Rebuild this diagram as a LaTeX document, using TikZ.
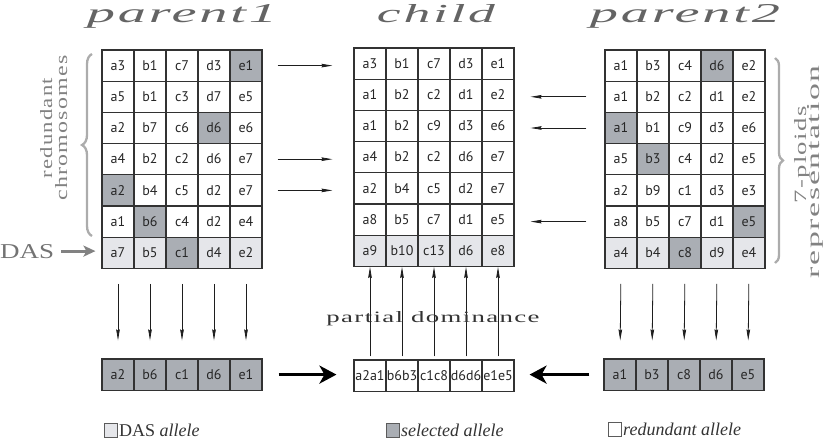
\documentclass[tikz,border=0pt]{standalone}
\usepackage{fontspec}
\setmainfont{Liberation Serif}
\newfontfamily\cellfont{PT Sans}
\newfontfamily\spaced[LetterSpace=5]{Liberation Serif}
\usetikzlibrary{arrows.meta,decorations.pathreplacing}
\definecolor{cs}{RGB}{170,174,180}
\definecolor{cd}{RGB}{229,230,234}
\definecolor{cw}{RGB}{255,255,255}
\definecolor{gridc}{RGB}{50,50,50}
\definecolor{titlec}{RGB}{100,100,100}
\definecolor{sidec}{RGB}{130,130,130}
\definecolor{bracec}{RGB}{172,172,172}
\definecolor{dasc}{RGB}{115,115,115}
\definecolor{arrc}{RGB}{30,30,30}
\newcommand\drawgrid[4]{%
  \foreach \row [count=\r] in {#4} {
    \foreach \t/\f [count=\j] in \row {
      \node[cell,fill=\f] (#1-\r-\j) at ({#2+32*(\j-0.5)},{#3+31.2*(\r-0.5)}) {\t};
    }
  }}
\begin{document}
\begin{tikzpicture}[x=1pt,y=-1pt,
  cell/.style={draw=gridc, line width=1.1pt, minimum width=32pt, minimum height=31.2pt,
    inner sep=0pt, text height=9.5pt, text depth=0pt,
    font=\cellfont\fontsize{14}{15}\selectfont, text=black!85},
  titletext/.style={inner sep=0pt, text=titlec, anchor=base},
  sidetext/.style={inner sep=0pt, text=sidec, rotate=90, anchor=base},
  smarr/.style={draw=arrc, line width=0.8pt, -{Stealth[length=11pt,width=3.6pt,inset=1pt]}},
  bigarr/.style={draw=black, line width=3.2pt, -{Stealth[length=17pt,width=18pt,inset=5pt]}},
  dasarr/.style={draw=sidec, line width=3pt, -{Stealth[length=12pt,width=11pt,inset=3pt]}},
  bracestyle/.style={draw=bracec, line width=2.3pt, decorate},
  legbox/.style={draw=gridc!80, line width=0.8pt, minimum width=13pt, minimum height=14pt, inner sep=0pt},
  legtext/.style={inner sep=0pt, anchor=base west, text=black!80, font=\fontsize{18}{19}\selectfont}
]
\useasboundingbox (0,0) rectangle (828,441);

% titles
\node[titletext] (tp1) at (182,23) {\resizebox{190pt}{18pt}{\spaced\itshape parent1}};
\node[titletext] (tc) at (436,23) {\resizebox{118pt}{18pt}{\spaced\itshape child}};
\node[titletext] (tp2) at (685,23) {\resizebox{190pt}{18pt}{\spaced\itshape parent2}};

% grids
\drawgrid{p1}{102}{50}{%
  {a3/cw,b1/cw,c7/cw,d3/cw,e1/cs},
  {a5/cw,b1/cw,c3/cw,d7/cw,e5/cw},
  {a2/cw,b7/cw,c6/cw,d6/cs,e6/cw},
  {a4/cw,b2/cw,c2/cw,d6/cw,e7/cw},
  {a2/cs,b4/cw,c5/cw,d2/cw,e7/cw},
  {a1/cw,b6/cs,c4/cw,d2/cw,e4/cw},
  {a7/cd,b5/cd,c1/cs,d4/cd,e2/cd}}
\drawgrid{c}{354}{48}{%
  {a3/cw,b1/cw,c7/cw,d3/cw,e1/cw},
  {a1/cw,b2/cw,c2/cw,d1/cw,e2/cw},
  {a1/cw,b2/cw,c9/cw,d3/cw,e6/cw},
  {a4/cw,b2/cw,c2/cw,d6/cw,e7/cw},
  {a2/cw,b4/cw,c5/cw,d2/cw,e7/cw},
  {a8/cw,b5/cw,c7/cw,d1/cw,e5/cw},
  {a9/cd,b10/cd,c13/cd,d6/cd,e8/cd}}
\drawgrid{p2}{605}{50}{%
  {a1/cw,b3/cw,c4/cw,d6/cs,e2/cw},
  {a1/cw,b2/cw,c2/cw,d1/cw,e2/cw},
  {a1/cs,b1/cw,c9/cw,d3/cw,e6/cw},
  {a5/cw,b3/cs,c4/cw,d2/cw,e5/cw},
  {a2/cw,b9/cw,c1/cw,d3/cw,e3/cw},
  {a8/cw,b5/cw,c7/cw,d1/cw,e5/cs},
  {a4/cd,b4/cd,c8/cs,d9/cd,e4/cd}}

% bottom rows
\drawgrid{p1b}{102}{359}{{a2/cs,b6/cs,c1/cs,d6/cs,e1/cs}}
\drawgrid{cb}{354}{360}{{a2a1/cw,b6b3/cw,c1c8/cw,d6d6/cw,e1e5/cw}}
\drawgrid{p2b}{604}{359}{{a1/cs,b3/cs,c8/cs,d6/cs,e5/cs}}

% row arrows parent1 -> child
\foreach \r in {1,4,5}
  \draw[smarr, shorten <=15pt, shorten >=21pt] (p1-\r-5.east) -- (c-\r-1.west |- p1-\r-5.east);
% row arrows parent2 -> child
\foreach \r in {2,3,6}
  \draw[smarr, shorten <=18pt, shorten >=16pt] (p2-\r-1.west) -- (c-\r-5.east |- p2-\r-1.west);

% vertical arrows
\foreach \j in {1,...,5} {
  \draw[smarr, shorten <=15pt, shorten >=18pt] (p1-7-\j.south) -- (p1b-1-\j.north);
  \draw[smarr, shorten <=15pt, shorten >=18pt] (p2-7-\j.south) -- (p2b-1-\j.north);
  \draw[smarr, shorten <=3pt] (cb-1-\j.north) -- (c-7-\j.south);
}

% partial dominance
\node[inner sep=0pt, anchor=base, text=black!80] (pd) at (433,322)
  {\resizebox{213pt}{11pt}{\spaced partial dominance}};

% big arrows
\draw[bigarr, shorten <=16pt, shorten >=17pt] (p1b-1-5.east) -- (cb-1-1.west |- p1b-1-5.east);
\draw[bigarr, shorten <=14pt, shorten >=15pt] (p2b-1-1.west) -- (cb-1-5.east |- p2b-1-1.west);

% left side
\node[sidetext] (red) at (52,128) {\resizebox{100pt}{12pt}{\spaced redundant}};
\node[sidetext] (chr) at (67,128) {\resizebox{145pt}{12pt}{\spaced chromosomes}};
\draw[bracestyle, decoration={brace, amplitude=10pt}] (92,236) -- (92,54);
\node[inner sep=0pt, anchor=base west, text=dasc] (das) at (0,258) {\resizebox{54pt}{14pt}{DAS}};
\draw[dasarr, shorten <=7pt, shorten >=6pt] (das.east) -- (p1-7-1.west |- das.east);

% right side
\draw[bracestyle, decoration={brace, amplitude=8pt}] (775,58) -- (775,263);
\node[sidetext] (plo) at (806,155) {\resizebox{97pt}{12pt}{\spaced 7-ploids}};
\node[sidetext] (rep) at (819,172) {\resizebox{213pt}{12pt}{\spaced representation}};

% legend
\node[legbox, fill=cd] (l1) at (110.5,430) {};
\node[legtext] (l1t) at (119,436) {DAS \textit{allele}};
\node[legbox, fill=cs] (l2) at (392.5,430) {};
\node[legtext] (l2t) at (401,436) {\textit{selected allele}};
\node[legbox, fill=cw] (l3) at (614.5,429) {};
\node[legtext] (l3t) at (623,435) {\textit{redundant allele}};
\end{tikzpicture}
\end{document}
